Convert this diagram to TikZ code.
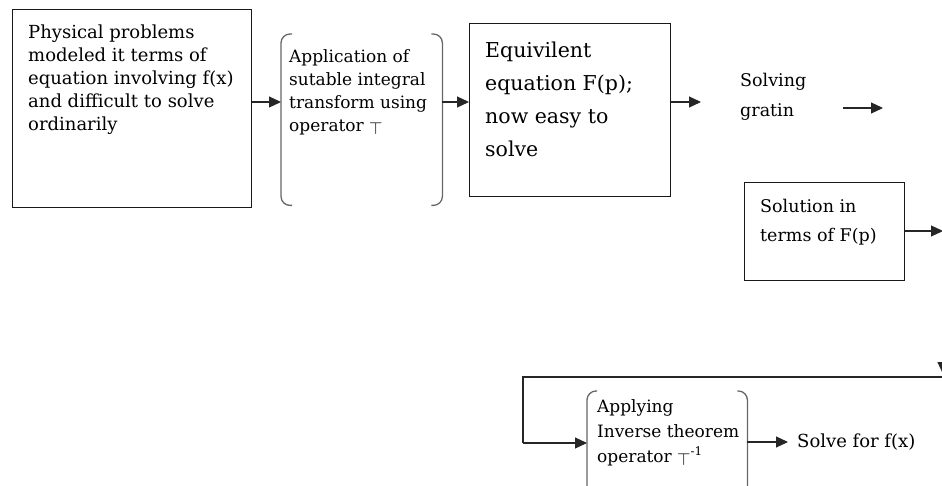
\documentclass[tikz,border=0pt]{standalone}
\usepackage{fontspec}
\setmainfont{DejaVu Serif}
\usetikzlibrary{arrows.meta}
\tikzset{
  box/.style={draw=black!90, line width=1.1pt, anchor=north west, inner sep=0pt},
  ghost/.style={draw=none, anchor=north west, inner sep=0pt},
  bracket/.style={draw=black!60, line width=1.3pt, rounded corners=9pt},
  arr/.style={draw=black!85, line width=1.2pt, -{Triangle[length=12pt,width=11pt]}},
  plain/.style={draw=black!85, line width=1.2pt},
  txt/.style={anchor=base west, align=left, inner sep=0pt, text=black},
  small/.style={font=\fontsize{18}{23.2}\selectfont},
}
\newcommand{\optop}{\raisebox{-3pt}{$\top$}}
\begin{document}
\begin{tikzpicture}[x=1pt,y=-1pt]
\useasboundingbox (0,0) rectangle (942,486);
\clip (0,0) rectangle (942,486);
% boxes
\node[box, minimum width=239pt, minimum height=198pt] (b1) at (12,9) {};
\node[ghost, minimum width=161pt, minimum height=171pt] (b2) at (281,34) {};
\node[box, minimum width=201pt, minimum height=173pt] (b3) at (469,23) {};
\node[box, minimum width=160pt, minimum height=98pt] (b4) at (744,182) {};
\node[ghost, minimum width=160pt, minimum height=120pt] (b5) at (587,391) {};
% brackets
\draw[bracket] ([xshift=11pt]b2.north west) -- (b2.north west) -- (b2.south west) -- ([xshift=11pt]b2.south west);
\draw[bracket] ([xshift=-11pt]b2.north east) -- (b2.north east) -- (b2.south east) -- ([xshift=-11pt]b2.south east);
\draw[bracket] ([xshift=10pt]b5.north west) -- (b5.north west) -- (b5.south west);
\draw[bracket] ([xshift=-10pt]b5.north east) -- (b5.north east) -- (b5.south east);
% texts (anchored at the baseline of the last line)
\node[txt, small] (t1) at (28,131) {Physical problems\\modeled it terms of\\equation involving f(x)\\and difficult to solve\\ordinarily};
\node[txt, font=\fontsize{17}{23.3}\selectfont] (t2) at (289,132) {Application of\\sutable integral\\transform using\\operator \optop};
\node[txt, font=\fontsize{20.5}{33}\selectfont] (t3) at (485,157) {Equivilent\\equation F(p);\\now easy to\\solve};
\node[txt, font=\fontsize{17.5}{30}\selectfont] (t4) at (740,117) {Solving\\gratin};
\node[txt, font=\fontsize{17.5}{29}\selectfont] (t5) at (760,242) {Solution in\\terms of F(p)};
\node[txt, font=\fontsize{17}{25}\selectfont] (t6) at (597,462) {Applying\\Inverse theorem\\operator \optop\textsuperscript{-1}};
\node[anchor=west, inner xsep=9pt, inner ysep=0pt, small, text=black] (t7) at (788,442) {Solve for f(x)};
% connectors
\coordinate (r1) at (0,102);
\draw[arr] (b1.east |- r1) -- (b2.west |- r1);
\draw[arr] (b2.east |- r1) -- (b3.west |- r1);
\coordinate (a3) at (701,102);
\draw[arr] (b3.east |- r1) -- (a3);
\coordinate (a4s) at (843,108);
\coordinate (a4e) at (883,108);
\draw[arr] (a4s) -- (a4e);
\coordinate (a5) at (943,231);
\draw[arr] (b4.east |- a5) -- (a5);
\coordinate (c0) at (943,330);
\coordinate (c1) at (943,377);
\coordinate (c2) at (523,377);
\coordinate (c3) at (523,443);
\draw[arr] (c0) -- ([yshift=3pt]c1);
\draw[plain] (c1) -- (c2) -- (c3);
\draw[arr] (c3) -- (b5.west |- c3);
\draw[arr] (b5.east |- t7.west) -- (t7.west);
\end{tikzpicture}
\end{document}
